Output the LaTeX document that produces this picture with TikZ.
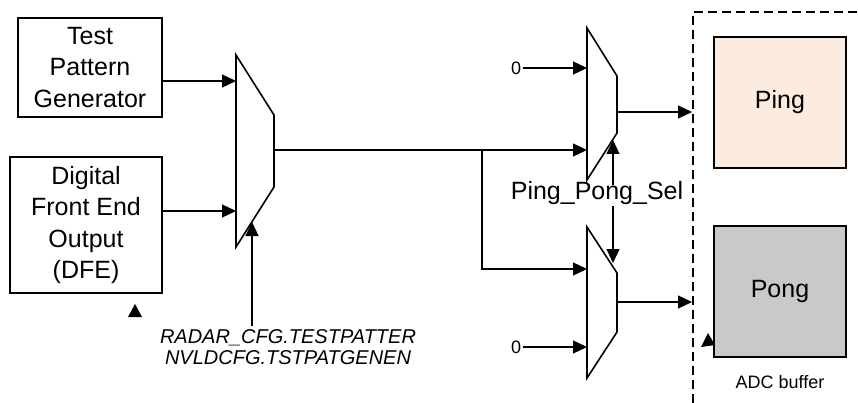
\documentclass[tikz,border=0pt]{standalone}
\usepackage{fontspec}
\setmainfont{Liberation Sans}
\usepackage{tikz}
\usetikzlibrary{arrows.meta,positioning}

\tikzset{
  blk/.style={draw, line width=1.6pt, align=center, inner sep=0pt,
    font=\fontsize{25}{31.5}\selectfont},
  arr/.style={line width=1.2pt, -{Triangle[length=14pt,width=13pt]}},
  muxline/.style={line width=1.6pt, line join=miter},
  lbl/.style={inner sep=1pt, font=\fontsize{25}{30}\selectfont},
}

\begin{document}
\begin{tikzpicture}[x=1pt,y=-1pt]
\useasboundingbox (0,0) rectangle (858,403);

% sources
\node[blk, minimum width=144, minimum height=99] (tpg) at (90,67.5) {Test\\Pattern\\Generator};
\node[blk, minimum width=152, minimum height=136] (dfe) at (86,225) {Digital\\Front End\\Output\\(DFE)};

% first mux
\draw[muxline] (236,55) -- (274,115) -- (274,187) -- (236,247) -- cycle;
\coordinate (m1a) at (236,81);
\coordinate (m1b) at (236,211);
\coordinate (m1out) at (274,150);
\coordinate (m1sel) at (252,222);
\draw[arr] (tpg.east |- m1a) -- (m1a);
\draw[arr] (dfe.east |- m1b) -- (m1b);

\node[inner sep=0pt, align=center, font=\fontsize{20}{21}\selectfont\itshape] (cfg) at (288,347)
  {RADAR\_CFG.TESTPATTER\\NVLDCFG.TSTPATGENEN};
\draw[arr] (cfg.north -| m1sel) ++(0,-3) -- (m1sel);

% ping / pong muxes
\draw[muxline] (587,28) -- (617,76) -- (617,133) -- (587,180) -- cycle;
\draw[muxline] (587,227) -- (617,273) -- (617,332) -- (587,378) -- cycle;
\coordinate (m2a) at (587,68);
\coordinate (m2b) at (587,150);
\coordinate (m2out) at (617,112);
\coordinate (m3a) at (587,269);
\coordinate (m3b) at (587,347);
\coordinate (m3out) at (617,302);
\coordinate (split) at (482,150);

\draw[arr] (m1out) -- (m2b);
\draw[arr] (split) |- (m3a);

\node[inner sep=2pt, font=\fontsize{18}{20}\selectfont] (zeroa) at (516,68) {0};
\node[inner sep=2pt, font=\fontsize{18}{20}\selectfont] (zerob) at (516,347) {0};
\draw[arr] (zeroa.east) -- (m2a);
\draw[arr] (zerob.east) -- (m3b);

\node[lbl] (sel) at (597,193) {Ping\_Pong\_Sel};
\draw[arr] (sel.north -| 613,0) ++(0,5) -- (613,140);
\draw[arr] (sel.south -| 613,0) -- (613,263);

% ADC buffer
\draw[line width=1.6pt, dash pattern=on 9pt off 5pt] (693,403) -- (693,12) -- (858,12);
\node[blk, fill={rgb,255:red,252;green,236;blue,224}, minimum width=132, minimum height=131] (ping) at (780,102.5) {Ping};
\node[blk, fill={rgb,255:red,201;green,201;blue,201}, minimum width=132, minimum height=131] (pong) at (780,291.5) {Pong};
\node[inner sep=0pt, font=\fontsize{18}{20}\selectfont] (adc) at (780,382) {ADC buffer};
\coordinate (pingin) at (692,112);
\coordinate (pongin) at (692,302);
\draw[arr] (m2out) -- (pingin);
\draw[arr] (m3out) -- (pongin);

% stray arrow tips
\fill (128,317) -- (135,304) -- (142,317) -- cycle;
\fill (701,347) -- (708,333) -- (715,345) -- cycle;
\end{tikzpicture}
\end{document}
